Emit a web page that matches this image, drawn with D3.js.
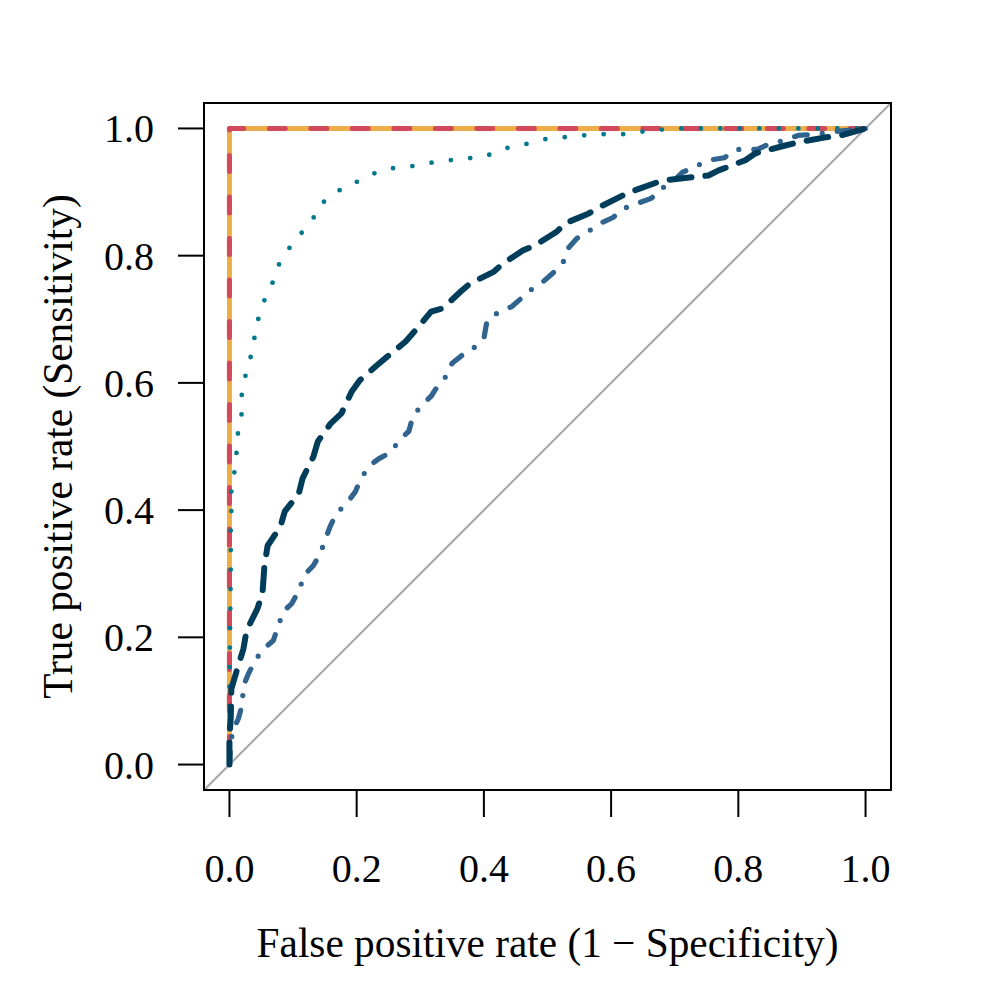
<!DOCTYPE html>
<html><head><meta charset="utf-8">
<script src="https://cdn.jsdelivr.net/npm/d3@7"></script>
<style>body{margin:0;background:#fff}svg{display:block}</style>
</head><body>
<svg id="c" width="996" height="996"></svg>
<script>
// ---- data ----
const xTicks = [0, 0.2, 0.4, 0.6, 0.8, 1.0];
const yTicks = [0, 0.2, 0.4, 0.6, 0.8, 1.0];

const perfectFpr = [0, 0, 1];
const perfectTpr = [0, 1, 1];

const tealFpr = [0,0,0.002,0.002,0.002,0.003,0.003,0.008,0.011,0.013,0.019,0.019,0.024,0.031,0.038,0.041,0.049,0.057,0.068,0.076,0.088,0.101,0.117,0.131,0.142,0.162,0.180,0.203,0.224,0.249,0.279,0.306,0.335,0.364,0.394,0.419,0.443,0.469,0.496,0.524,0.556,0.587,0.619,0.649,0.677,0.707,1];
const tealTpr = [0,0.119,0.303,0.335,0.368,0.398,0.431,0.461,0.489,0.519,0.546,0.579,0.607,0.632,0.659,0.687,0.712,0.736,0.758,0.783,0.803,0.822,0.840,0.857,0.881,0.893,0.909,0.917,0.928,0.937,0.939,0.945,0.948,0.953,0.954,0.962,0.972,0.976,0.983,0.986,0.989,0.991,0.991,0.995,0.998,1,1];

const navyFpr = [0,0,0.002,0.003,0.011,0.022,0.027,0.044,0.052,0.055,0.060,0.080,0.087,0.109,0.115,0.132,0.139,0.159,0.176,0.192,0.205,0.231,0.249,0.277,0.291,0.317,0.335,0.364,0.378,0.416,0.428,0.461,0.480,0.515,0.528,0.564,0.583,0.619,0.638,0.680,0.706,0.753,0.769,0.811,0.827,0.869,0.893,0.937,0.961,1];
const navyTpr = [0,0.044,0.072,0.119,0.146,0.182,0.211,0.245,0.270,0.313,0.344,0.374,0.398,0.426,0.450,0.484,0.508,0.536,0.552,0.586,0.604,0.627,0.642,0.665,0.681,0.712,0.717,0.744,0.756,0.775,0.786,0.808,0.816,0.838,0.851,0.866,0.877,0.895,0.903,0.918,0.921,0.926,0.934,0.950,0.961,0.972,0.978,0.986,0.989,1];

const blueFpr = [0,0.002,0.005,0.014,0.020,0.022,0.030,0.041,0.054,0.069,0.077,0.085,0.098,0.110,0.117,0.132,0.143,0.151,0.159,0.169,0.184,0.198,0.206,0.219,0.235,0.254,0.266,0.282,0.288,0.301,0.317,0.328,0.342,0.350,0.369,0.387,0.400,0.405,0.424,0.444,0.460,0.476,0.493,0.510,0.524,0.532,0.546,0.564,0.583,0.603,0.619,0.641,0.663,0.680,0.698,0.712,0.732,0.753,0.778,0.798,0.830,0.847,0.871,0.894,0.921,0.950,0.972,1];
const blueTpr = [0,0.033,0.053,0.072,0.094,0.124,0.143,0.165,0.182,0.195,0.219,0.241,0.253,0.275,0.297,0.313,0.332,0.355,0.376,0.396,0.410,0.429,0.448,0.469,0.481,0.491,0.509,0.524,0.546,0.564,0.579,0.596,0.612,0.631,0.646,0.657,0.670,0.698,0.712,0.720,0.734,0.748,0.759,0.774,0.788,0.811,0.827,0.838,0.851,0.860,0.874,0.882,0.890,0.906,0.917,0.931,0.940,0.950,0.954,0.967,0.967,0.975,0.981,0.989,0.991,0.995,0.997,1];

const xLabel = "False positive rate (1 \u2212 Specificity)";
const yLabel = "True positive rate (Sensitivity)";

// ---- drawing ----
const svg = d3.select("#c");
const L = 204, R = 891, T = 103, B = 790;
const x = d3.scaleLinear().domain([-0.04, 1.04]).range([L, R]);
const y = d3.scaleLinear().domain([-0.04, 1.04]).range([B, T]);
const font = "'Liberation Serif','Times New Roman',serif";

svg.append("defs").append("clipPath").attr("id","clip")
  .append("rect").attr("x",L).attr("y",T).attr("width",R-L).attr("height",B-T);

const g = svg.append("g").attr("clip-path","url(#clip)");

// diagonal reference line
g.append("line")
  .attr("x1", x(-0.04)).attr("y1", y(-0.04))
  .attr("x2", x(1.04)).attr("y2", y(1.04))
  .attr("stroke", "#aaaaaa").attr("stroke-width", 2.2);

const line = d3.line().x(d => x(d[0])).y(d => y(d[1]));
const zip = (a, b) => a.map((v, i) => [v, b[i]]);

function curve(fx, ty, color, width, dash, offset) {
  const p = g.append("path").datum(zip(fx, ty)).attr("d", line)
    .attr("fill", "none").attr("stroke", color).attr("stroke-width", width)
    .attr("stroke-linecap", dash ? "round" : "butt")
    .attr("stroke-linejoin", "round");
  if (dash) p.attr("stroke-dasharray", dash);
  if (offset) p.attr("stroke-dashoffset", offset);
}

curve(perfectFpr, perfectTpr, "#edae49", 5, null);
curve(perfectFpr, perfectTpr, "#d1495b", 5, "16,25.5", 29.5);
curve(tealFpr, tealTpr, "#00798c", 4.8, "0,19.5");
curve(blueFpr, blueTpr, "#30638e", 5.2, "13,15,0,15");
curve(navyFpr, navyTpr, "#003d5b", 6, "22,14");

// box
svg.append("rect").attr("x", L).attr("y", T).attr("width", R-L).attr("height", B-T)
  .attr("fill","none").attr("stroke","#000").attr("stroke-width",2);

// x axis
const xa = svg.append("g");
xa.selectAll("line").data(xTicks).join("line")
  .attr("x1", d => x(d)).attr("x2", d => x(d)).attr("y1", B).attr("y2", 817)
  .attr("stroke","#000").attr("stroke-width",2);
xa.selectAll("text").data(xTicks).join("text")
  .attr("x", d => x(d)).attr("y", 882).attr("text-anchor","middle")
  .attr("font-family", font).attr("font-size", 40)
  .text(d => d3.format(".1f")(d));

// y axis
const ya = svg.append("g");
ya.selectAll("line").data(yTicks).join("line")
  .attr("x1", 178).attr("x2", L).attr("y1", d => y(d)).attr("y2", d => y(d))
  .attr("stroke","#000").attr("stroke-width",2);
ya.selectAll("text").data(yTicks).join("text")
  .attr("x", 154).attr("y", d => y(d)).attr("dy","0.35em").attr("text-anchor","end")
  .attr("font-family", font).attr("font-size", 40)
  .text(d => d3.format(".1f")(d));

// axis titles
svg.append("text").attr("x", (L+R)/2).attr("y", 957).attr("text-anchor","middle")
  .attr("font-family", font).attr("font-size", 41.3).text(xLabel);
svg.append("text").attr("transform", `translate(72,${(T+B)/2}) rotate(-90)`)
  .attr("text-anchor","middle")
  .attr("font-family", font).attr("font-size", 41.3).text(yLabel);
</script>
</body></html>
